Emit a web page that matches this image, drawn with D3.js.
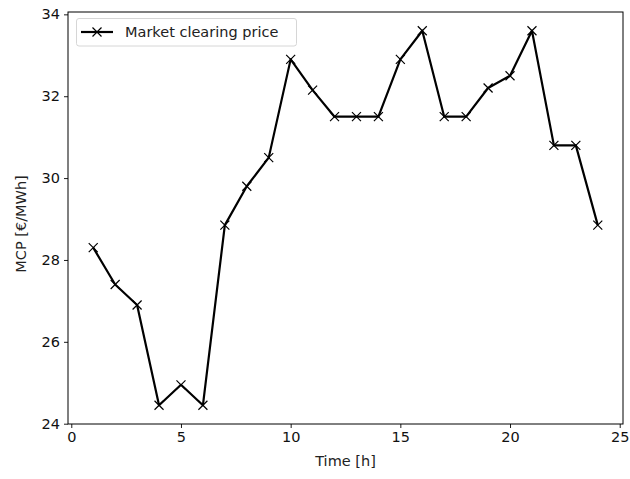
<!DOCTYPE html>
<html><head><meta charset="utf-8">
<script src="https://cdn.jsdelivr.net/npm/d3@7"></script>
<style>body{margin:0;background:#fff}svg{font-family:"DejaVu Sans",sans-serif}</style>
</head><body>
<svg id="c" width="630" height="479"></svg>
<script>
const hours = [1,2,3,4,5,6,7,8,9,10,11,12,13,14,15,16,17,18,19,20,21,22,23,24];
const mcp = [28.3,27.4,26.9,24.45,24.95,24.45,28.85,29.8,30.5,32.9,32.15,31.5,31.5,31.5,32.9,33.6,31.5,31.5,32.2,32.5,33.6,30.8,30.8,28.85];
const xTicks = [0,5,10,15,20,25];
const yTicks = [24,26,28,30,32,34];
const seriesName = "Market clearing price";
const xLabel = "Time [h]";
const yLabel = "MCP [€/MWh]";

const FS = 14.5;
const L=68, R=623, T=12, B=424;
const svg = d3.select("#c");
const xr = d3.extent(hours), yr = d3.extent(mcp);
const xm = (xr[1]-xr[0])*0.05, ym = (yr[1]-yr[0])*0.05;
const x = d3.scaleLinear().domain([xr[0]-xm, xr[1]+xm]).range([L,R]);
const y = d3.scaleLinear().domain([yr[0]-ym, yr[1]+ym]).range([B,T]);

const gx = svg.append("g").attr("transform",`translate(0,${B})`)
  .call(d3.axisBottom(x).tickValues(xTicks).tickSize(4).tickPadding(4));
const gy = svg.append("g").attr("transform",`translate(${L},0)`)
  .call(d3.axisLeft(y).tickValues(yTicks).tickSize(4).tickPadding(4));
[gx,gy].forEach(g=>{
  g.select(".domain").remove();
  g.selectAll("text").attr("font-size",FS).attr("fill","#111").attr("font-family","DejaVu Sans");
  g.selectAll("line").attr("stroke","#000").attr("stroke-width",0.9);
});
svg.append("rect").attr("x",L).attr("y",T).attr("width",R-L).attr("height",B-T)
  .attr("fill","none").attr("stroke","#000").attr("stroke-width",1);

const line = d3.line().x((d,i)=>x(hours[i])).y(d=>y(d));
svg.append("path").datum(mcp).attr("d",line).attr("fill","none")
  .attr("stroke","#000").attr("stroke-width",2.2).attr("stroke-linejoin","round");
const s=4.5;
svg.append("g").selectAll("path").data(mcp).join("path")
  .attr("d",(d,i)=>{const cx=x(hours[i]),cy=y(d);return `M${cx-s},${cy-s}L${cx+s},${cy+s}M${cx-s},${cy+s}L${cx+s},${cy-s}`;})
  .attr("stroke","#000").attr("stroke-width",1.2);

// legend
const lg = svg.append("g");
lg.append("rect").attr("x",76.5).attr("y",18.5).attr("width",220).attr("height",27.5).attr("rx",2.5)
  .attr("fill","#fff").attr("fill-opacity",0.8).attr("stroke","#d6d6d6").attr("stroke-width",1);
lg.append("line").attr("x1",81).attr("x2",113).attr("y1",32).attr("y2",32).attr("stroke","#000").attr("stroke-width",2.2);
lg.append("path").attr("d",`M${97-s},${32-s}L${97+s},${32+s}M${97-s},${32+s}L${97+s},${32-s}`).attr("stroke","#000").attr("stroke-width",1.2);
lg.append("text").attr("x",125).attr("y",37).attr("font-size",FS).attr("fill","#222").text(seriesName);

svg.append("text").attr("x",(L+R)/2).attr("y",466).attr("text-anchor","middle").attr("font-size",FS).attr("fill","#222").text(xLabel);
svg.append("text").attr("transform",`translate(26,224) rotate(-90)`).attr("text-anchor","middle").attr("font-size",FS).attr("fill","#222").text(yLabel);
</script>
</body></html>
